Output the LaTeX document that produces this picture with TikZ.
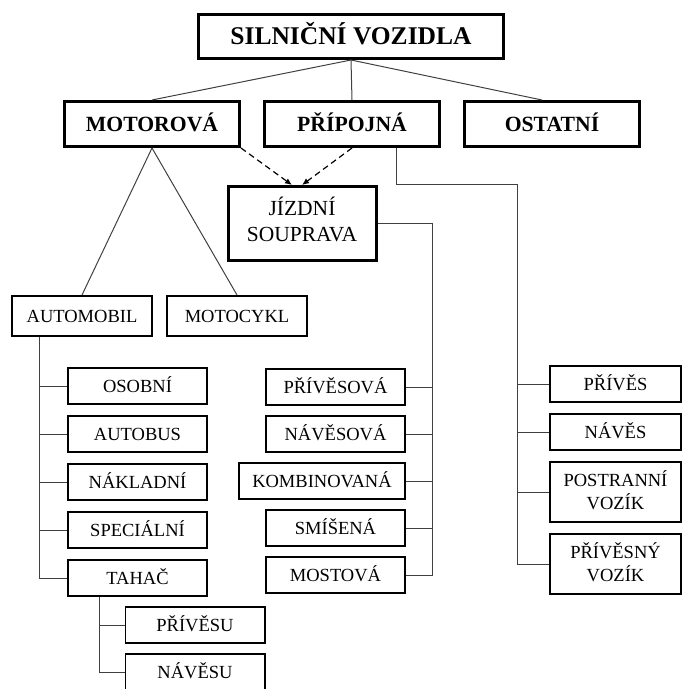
\documentclass[tikz,border=0pt]{standalone}
\usepackage{fontspec}
\setmainfont{Liberation Serif}
\usepackage{tikz}
\usetikzlibrary{positioning,arrows.meta}

\begin{document}
\begin{tikzpicture}[
                x=1pt, y=-1pt,
                topbox/.style={draw, line width=3.2pt, minimum width=304.8pt, minimum height=43.8pt,
                    text height=16.8pt, text depth=0pt, font=\fontsize{25.5}{30}\selectfont\bfseries},
                mainbox/.style={draw, line width=3pt, minimum width=175pt, minimum height=45pt,
                    text height=14.3pt, text depth=0pt, font=\fontsize{21.7}{26}\selectfont\bfseries},
                combobox/.style={draw, line width=3pt, minimum width=148pt, minimum height=74pt,
                    align=center, text depth=8pt, font=\fontsize{21.5}{25.8}\selectfont},
                box/.style={draw, line width=1.6pt, minimum width=139.4pt, minimum height=36.4pt,
                    text height=12.2pt, text depth=0pt, font=\fontsize{18.5}{22.2}\selectfont},
                tallbox/.style={draw, line width=1.6pt, minimum width=131.4pt, minimum height=60.4pt,
                    align=center, text depth=4pt, font=\fontsize{18.5}{22.2}\selectfont},
                link/.style={draw=black!75, line width=1pt},
                dlink/.style={line width=1.2pt, dash pattern=on 6pt off 4pt, -{Latex[length=7pt,width=6pt]}}
            ]
                \useasboundingbox (0,0) rectangle (684,689);

                % Top
                \node[topbox] (vozidla) at (351,36.5) {SILNIČNÍ VOZIDLA};

                % Second level
                \node[mainbox, below=40pt of vozidla, xshift=-199pt] (motorova) {MOTOROVÁ};
                \node[mainbox, right=22pt of motorova] (pripojna) {PŘÍPOJNÁ};
                \node[mainbox, right=22pt of pripojna] (ostatni) {OSTATNÍ};

                \draw[link] (vozidla.south) -- (motorova.north);
                \draw[link] (vozidla.south) -- (pripojna.north);
                \draw[link] (vozidla.south) -- ([xshift=-10pt]ostatni.north);

                % Combination
                \node[combobox, below=37pt of pripojna, xshift=-50pt] (souprava) {JÍZDNÍ\\SOUPRAVA};

                \draw[dlink] (motorova.south east) -- ([xshift=-10pt]souprava.north);
                \draw[dlink] (pripojna.south) -- (souprava.north);

                % Motor vehicles
                \node[box, minimum width=140.4pt, minimum height=40.4pt, below=147pt of motorova, xshift=-70pt] (automobil) {AUTOMOBIL};
                \node[box, minimum width=140.4pt, minimum height=40.4pt, right=13pt of automobil] (motocykl) {MOTOCYKL};

                \draw[link] (motorova.south) -- (automobil.north);
                \draw[link] (motorova.south) -- (motocykl.north);

                \node[box, below=30pt of automobil, xshift=55.5pt] (osobni) {OSOBNÍ};
                \node[box, below=10pt of osobni] (autobus) {AUTOBUS};
                \node[box, below=10pt of autobus] (nakladni) {NÁKLADNÍ};
                \node[box, below=10pt of nakladni] (specialni) {SPECIÁLNÍ};
                \node[box, below=10pt of specialni] (tahac) {TAHAČ};

                \coordinate[xshift=-43pt] (abus) at (automobil.south);
                \draw[link] (abus) |- (tahac.west);
                \foreach \n in {osobni,autobus,nakladni,specialni}
                    \draw[link] (abus |- \n.west) -- (\n.west);

                % Tractor
                \node[box, below=9pt of tahac, xshift=57.5pt] (privesu) {PŘÍVĚSU};
                \node[box, below=9pt of privesu] (navesu) {NÁVĚSU};

                \coordinate[xshift=-38.5pt] (tbus) at (tahac.south);
                \draw[link] (tbus) |- (navesu.west);
                \draw[link] (tbus |- privesu.west) -- (privesu.west);

                % Combination types
                \node[box, below=106pt of souprava, xshift=33.5pt] (privesova) {PŘÍVĚSOVÁ};
                \node[box, below=9pt of privesova] (navesova) {NÁVĚSOVÁ};
                \node[box, minimum width=166.4pt, below=9pt of navesova, xshift=-13.5pt] (kombinovana) {KOMBINOVANÁ};
                \node[box, below=9pt of kombinovana, xshift=13.5pt] (smisena) {SMÍŠENÁ};
                \node[box, below=9pt of smisena] (mostova) {MOSTOVÁ};

                \coordinate[right=55pt of souprava.east] (sbus);
                \draw[link] (souprava.east) -- (sbus) |- (mostova.east);
                \foreach \n in {privesova,navesova,kombinovana,smisena}
                    \draw[link] (sbus |- \n.east) -- (\n.east);

                % Trailers
                \node[box, minimum width=131.4pt, below=217pt of ostatni, xshift=63.5pt] (prives) {PŘÍVĚS};
                \node[box, minimum width=131.4pt, below=10pt of prives] (naves) {NÁVĚS};
                \node[tallbox, below=10pt of naves] (postranni) {POSTRANNÍ\\VOZÍK};
                \node[tallbox, below=10pt of postranni] (privesny) {PŘÍVĚSNÝ\\VOZÍK};

                \coordinate[xshift=44.5pt] (pstart) at (pripojna.south);
                \coordinate[below=36pt of pstart, xshift=121pt] (pbus);
                \draw[link] (pstart) |- (pbus) |- (privesny.west);
                \foreach \n in {prives,naves,postranni}
                    \draw[link] (pbus |- \n.west) -- (\n.west);
            \end{tikzpicture}
\end{document}
